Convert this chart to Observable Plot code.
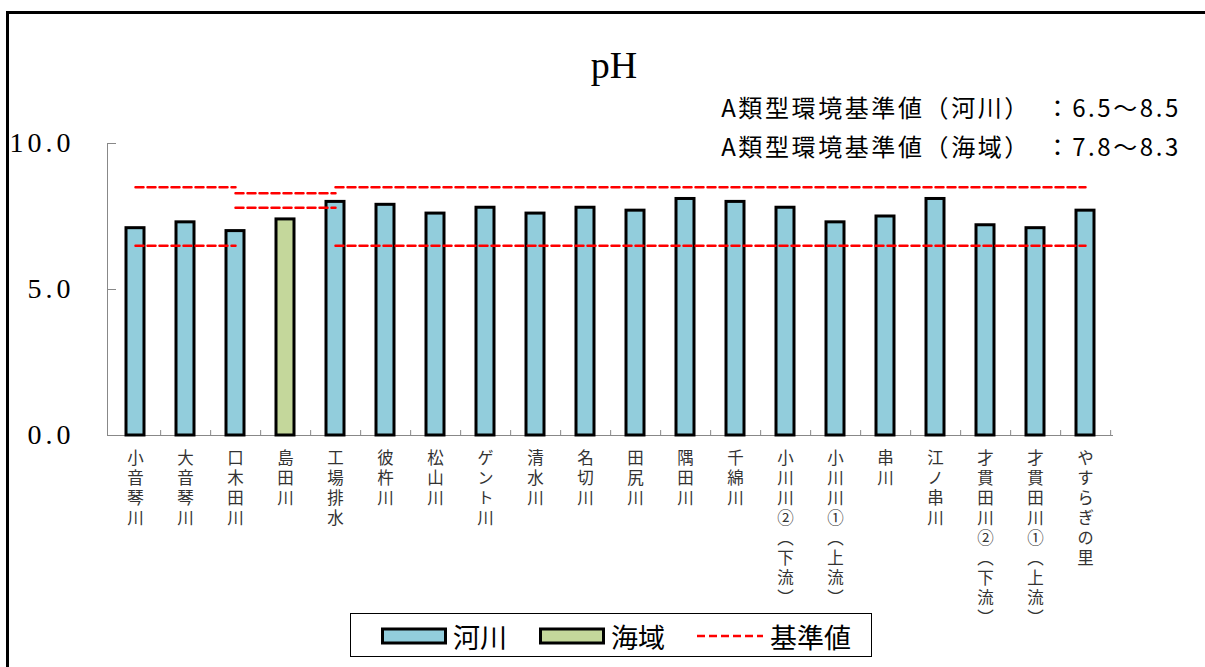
<!DOCTYPE html>
<html>
<head>
<meta charset="utf-8">
<script src="https://cdn.jsdelivr.net/npm/d3@7"></script>
<script src="https://cdn.jsdelivr.net/npm/@observablehq/plot@0.6"></script>
<style>
  html, body { margin: 0; padding: 0; background: #fff; overflow: hidden; }
  #wrap { position: relative; width: 1205px; height: 667px; overflow: hidden;
          font-family: "Noto Sans CJK JP", sans-serif; color: #000; }
  #border { position: absolute; left: 6px; top: 11px; width: 1300px; height: 900px;
            border: 3px solid #000; box-sizing: border-box; }
  #chart { position: absolute; left: 0; top: 0; }
  #chart g[aria-label="y-axis tick label"] { letter-spacing: 4px; }
  /* site names are set top-to-bottom */
  #chart g[aria-label="x-axis tick label"] text { writing-mode: vertical-rl; letter-spacing: 3.5px; }
  #title { position: absolute; left: 0; width: 1228px; top: 46px; text-align: center;
           font: 38px/38px "Liberation Serif", serif; }
  .note { position: absolute; right: 24px; font-size: 24px; line-height: 24px;
          letter-spacing: 2.6px; white-space: nowrap; }
  #legend { position: absolute; left: 350px; top: 613px; width: 522px; height: 44px;
            border: 1.5px solid #000; box-sizing: border-box; display: flex;
            align-items: center; font-size: 27px; }
  #legend .item { display: flex; align-items: center; position: absolute; top: 4px; height: 36px; }
  #legend svg { display: block; margin-right: 6px; }
</style>
</head>
<body>
<div id="wrap">
  <div id="border"></div>
  <div id="chart"></div>
  <div id="title">pH</div>
  <div class="note" id="note1" style="top:95px"></div>
  <div class="note" id="note2" style="top:134px"></div>
  <div id="legend"></div>
</div>
<script>
// Monitoring sites, in plotting order
const sites = [
  "小音琴川", "大音琴川", "口木田川", "島田川", "工場排水", "彼杵川", "松山川",
  "ゲント川", "清水川", "名切川", "田尻川", "隅田川", "千綿川", "小川川②（下流）",
  "小川川①（上流）", "串川", "江ノ串川", "才貫田川②（下流）", "才貫田川①（上流）", "やすらぎの里"
];
// Water body type of each site
const kinds = [
  "河川", "河川", "河川", "海域", "河川", "河川", "河川", "河川", "河川", "河川",
  "河川", "河川", "河川", "河川", "河川", "河川", "河川", "河川", "河川", "河川"
];
// Measured pH
const phValues = [7.1, 7.3, 7.0, 7.4, 8.0, 7.9, 7.6, 7.8, 7.6, 7.8,
                  7.7, 8.1, 8.0, 7.8, 7.3, 7.5, 8.1, 7.2, 7.1, 7.7];

// Class A environmental standard ranges
const riverStd = [6.5, 8.5];
const seaStd = [7.8, 8.3];
// Stretches of sites over which each standard line is drawn (first, last index)
const stdSpans = [
  {kind: "河川", from: 0, to: 2},
  {kind: "海域", from: 2, to: 4},
  {kind: "河川", from: 4, to: 19}
];

const kindColors = {"河川": "#92CDDC", "海域": "#C4D79B"};
const yTicks = [0, 5, 10];

const data = sites.map((site, i) => ({site, kind: kinds[i], ph: phValues[i]}));

// Standard lines: one polyline per span and bound
const stdLines = [];
stdSpans.forEach((s, si) => {
  const bounds = s.kind === "河川" ? riverStd : seaStd;
  bounds.forEach((v, bi) => {
    for (let i = s.from; i <= s.to; ++i) stdLines.push({site: sites[i], value: v, seg: `${si}-${bi}`});
  });
});

const W = 1205, H = 667;
const mL = 107, mR = 92, mT = 143, mB = 232;
const step = (W - mL - mR) / sites.length;

const chart = Plot.plot({
  width: W,
  height: H,
  marginLeft: mL,
  marginRight: mR,
  marginTop: mT,
  marginBottom: mB,
  style: {fontFamily: "'Noto Sans CJK JP', sans-serif", background: "transparent"},
  x: {type: "band", domain: sites, paddingInner: 0.64, paddingOuter: 0.32, axis: null},
  y: {domain: [0, 10], axis: null},
  color: {domain: Object.keys(kindColors), range: Object.values(kindColors)},
  marks: [
    Plot.frame({anchor: "left", stroke: "#888"}),
    Plot.ruleY([0], {stroke: "#888"}),
    Plot.ruleX(sites, {x: (d) => d, y1: 0, y2: 0.17, dx: step / 2, stroke: "#888"}),
    Plot.axisY({
      ticks: yTicks, tickFormat: d3.format(".1f"), tickSize: -9, tickPadding: 42,
      stroke: "#888", fill: "#000", fontSize: 28, fontFamily: "'Liberation Serif', serif",
      label: null
    }),
    Plot.axisX({
      tickSize: 0, tickPadding: 2, fontSize: 16.5,
      fill: "#333", textAnchor: "start", label: null
    }),
    Plot.barY(data, {x: "site", y: "ph", fill: "kind", stroke: "#000", strokeWidth: 3}),
    Plot.line(stdLines, {
      x: "site", y: "value", z: "seg", stroke: "#f00", strokeWidth: 2.5, strokeDasharray: "8,4"
    })
  ]
});
document.getElementById("chart").append(chart);

document.getElementById("note1").textContent = `A類型環境基準値（河川）　：${riverStd[0]}～${riverStd[1]}`;
document.getElementById("note2").textContent = `A類型環境基準値（海域）　：${seaStd[0]}～${seaStd[1]}`;

// Legend
const legend = document.getElementById("legend");
const swatch = (fill) =>
  `<svg width="66" height="18"><rect x="1.5" y="2" width="63" height="14" fill="${fill}" stroke="#000" stroke-width="3"/></svg>`;
const dashSwatch =
  `<svg width="68" height="18"><line x1="1" y1="9" x2="67" y2="9" stroke="#f00" stroke-width="2.5" stroke-dasharray="8,4"/></svg>`;
const items = [
  {left: 30, html: swatch(kindColors["河川"]) + "<span>河川</span>"},
  {left: 188, html: swatch(kindColors["海域"]) + "<span>海域</span>"},
  {left: 345, html: dashSwatch + "<span>基準値</span>"}
];
for (const it of items) {
  const d = document.createElement("div");
  d.className = "item";
  d.style.left = it.left + "px";
  d.innerHTML = it.html;
  legend.append(d);
}
</script>
</body>
</html>
